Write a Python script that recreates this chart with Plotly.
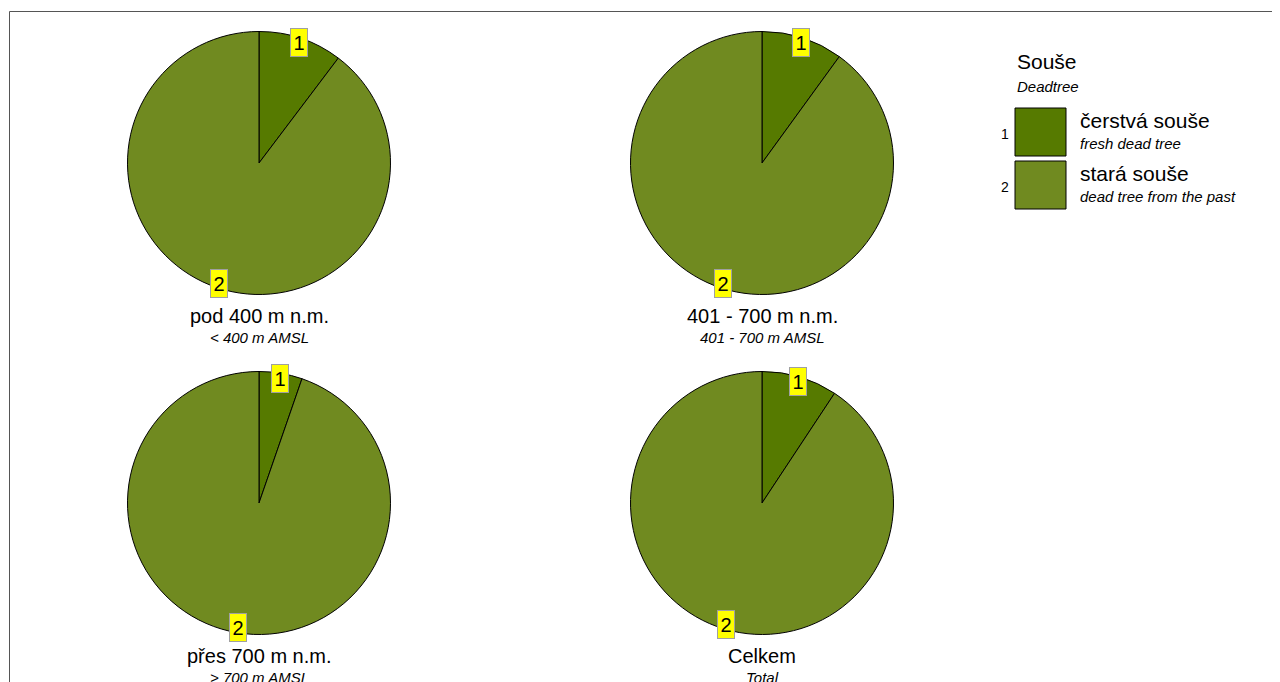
import math
import plotly.graph_objects as go

OFF = 8  # the page body puts the figure 8 px in from the window edge
W, H = 1280 - OFF, 682 - OFF

# ---- data ----
panels = ["pod 400 m n.m.", "401 - 700 m n.m.", "přes 700 m n.m.", "Celkem"]
panels_en = ["< 400 m AMSL", "401 - 700 m AMSL", "> 700 m AMSL", "Total"]
fresh = [10.3, 10.0, 5.3, 9.3]     # čerstvá souše, %
old = [89.7, 90.0, 94.7, 90.7]     # stará souše, %
class_ids = ["1", "2"]
class_cz = ["čerstvá souše", "stará souše"]
class_en = ["fresh dead tree", "dead tree from the past"]
colors = ["#567A00", "#708A20"]

FONT = "Arial, Liberation Sans, sans-serif"

# pixel layout of the four pies (centre x, centre y), radius
centres = [(259, 163), (762, 163), (259, 503), (762, 503)]
R = 131.5


def px(x):
    return (x - OFF) / W


def py(y):
    return 1 - (y - OFF) / H


fig = go.Figure()
annotations = []
shapes = []

for i, (cx, cy) in enumerate(centres):
    vals = [fresh[i], old[i]]
    fig.add_trace(go.Pie(
        values=vals,
        labels=class_cz,
        marker=dict(colors=colors, line=dict(color="black", width=1)),
        sort=False,
        direction="clockwise",
        rotation=0,
        textinfo="none",
        hoverinfo="label+percent",
        showlegend=False,
        domain=dict(x=[px(cx - R), px(cx + R)], y=[py(cy + R), py(cy - R)]),
    ))

    # yellow slice labels at the middle angle of each slice, near the rim
    total = sum(vals)
    start = 0.0
    for k, v in enumerate(vals):
        mid = (start + v / 2) / total * 2 * math.pi
        start += v
        lx = cx + math.sin(mid) * R * 0.963
        ly = cy - math.cos(mid) * R * 0.963
        annotations.append(dict(
            x=px(lx), y=py(ly), xref="paper", yref="paper",
            xanchor="center", yanchor="middle",
            text=class_ids[k], showarrow=False,
            font=dict(family=FONT, size=20, color="black"),
            bgcolor="#FFFF00", bordercolor="#A0A0A0", borderwidth=1,
            width=16, height=27, borderpad=0,
        ))

    # captions
    annotations.append(dict(
        x=px(cx), y=py(cy + R + 21), xref="paper", yref="paper",
        xanchor="center", yanchor="middle",
        text=panels[i], showarrow=False,
        font=dict(family=FONT, size=20, color="black"),
    ))
    annotations.append(dict(
        x=px(cx), y=py(cy + R + 43), xref="paper", yref="paper",
        xanchor="center", yanchor="middle",
        text="<i>" + panels_en[i] + "</i>", showarrow=False,
        font=dict(family=FONT, size=15, color="black"),
    ))

# ---- legend (drawn by hand) ----
lx0 = 1015
annotations.append(dict(x=px(lx0), y=py(62), xref="paper", yref="paper",
                        text="Souše", showarrow=False, xanchor="left", yanchor="middle",
                        font=dict(family=FONT, size=21, color="black")))
annotations.append(dict(x=px(lx0), y=py(86), xref="paper", yref="paper",
                        text="<i>Deadtree</i>", showarrow=False, xanchor="left", yanchor="middle",
                        font=dict(family=FONT, size=15, color="black")))

box_tops = [108, 161]
for k in range(len(class_ids)):
    t = box_tops[k]
    shapes.append(dict(type="rect", xref="paper", yref="paper",
                       x0=px(1015), x1=px(1066), y0=py(t + 48), y1=py(t),
                       fillcolor=colors[k], line=dict(color="black", width=1)))
    annotations.append(dict(x=px(1005), y=py(t + 26), xref="paper", yref="paper",
                            text=class_ids[k], showarrow=False,
                            xanchor="center", yanchor="middle",
                            font=dict(family=FONT, size=14, color="black")))
    annotations.append(dict(x=px(1078), y=py(t + 13), xref="paper", yref="paper",
                            text=class_cz[k], showarrow=False, xanchor="left", yanchor="middle",
                            font=dict(family=FONT, size=21, color="black")))
    annotations.append(dict(x=px(1078), y=py(t + 36), xref="paper", yref="paper",
                            text="<i>" + class_en[k] + "</i>", showarrow=False,
                            xanchor="left", yanchor="middle",
                            font=dict(family=FONT, size=15, color="black")))

# frame (runs off the right and bottom edges, as in the original)
shapes.append(dict(type="rect", xref="paper", yref="paper",
                   x0=px(9.5), x1=1.05, y0=-0.05, y1=py(11.5),
                   line=dict(color="#555555", width=1), layer="below"))

fig.update_layout(
    width=W, height=H,
    margin=dict(l=0, r=0, t=0, b=0),
    paper_bgcolor="white",
    plot_bgcolor="white",
    annotations=annotations,
    shapes=shapes,
    showlegend=False,
)

fig.write_html("out.html")
